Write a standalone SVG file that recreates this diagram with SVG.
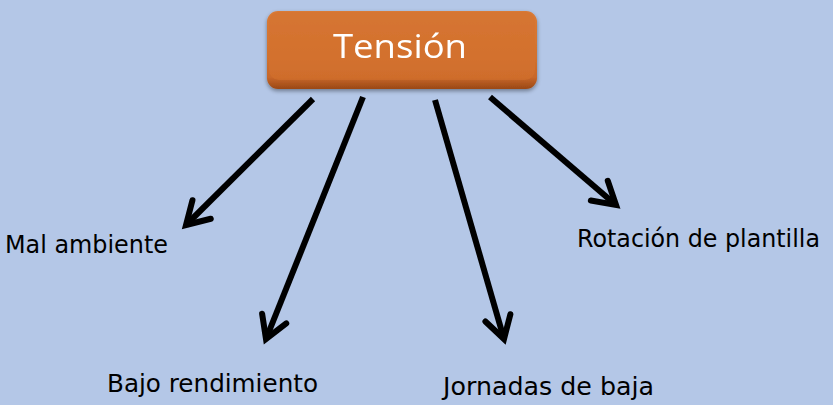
<svg xmlns="http://www.w3.org/2000/svg" width="833" height="405" viewBox="0 0 833 405">
<defs>
<linearGradient id="boxg" x1="0" y1="0" x2="0" y2="1">
<stop offset="0" stop-color="#d97a36"/>
<stop offset="0.6" stop-color="#d2712d"/>
<stop offset="0.85" stop-color="#c8672a"/>
<stop offset="1" stop-color="#9a4815"/>
</linearGradient>
<filter id="sh" x="-10%" y="-20%" width="120%" height="150%">
<feGaussianBlur in="SourceAlpha" stdDeviation="2"/>
<feOffset dy="2"/>
<feComponentTransfer><feFuncA type="linear" slope="0.4"/></feComponentTransfer>
<feMerge><feMergeNode/><feMergeNode in="SourceGraphic"/></feMerge>
</filter>
<marker id="ah" markerUnits="userSpaceOnUse" markerWidth="40" markerHeight="40" viewBox="-30 -20 40 40" refX="0" refY="0" orient="auto">
<path d="M-22,-13 L0,0 L-22,13" fill="none" stroke="#000" stroke-width="6" stroke-linejoin="miter" stroke-linecap="round"/>
</marker>
</defs>
<style>
.lbl{font-family:"Comic Sans MS","DejaVu Sans","Noto Sans",sans-serif;font-size:24px;fill:#000}
.conn line{stroke:#000;stroke-width:6;stroke-linecap:butt;marker-end:url(#ah)}
</style>
<rect x="0" y="0" width="833" height="405" fill="#b4c7e7"/>
<g id="tension" filter="url(#sh)">
<rect x="267" y="11" width="270" height="78" rx="11" fill="url(#boxg)"/>
<rect x="269" y="12" width="266" height="68" rx="10" fill="#d4722f" opacity="0.6"/>
<text x="400" y="58" text-anchor="middle" font-family="'Open Sans','Noto Sans',sans-serif" font-size="33" fill="#ffffff" textLength="134" lengthAdjust="spacingAndGlyphs">Tensión</text>
</g>
<g id="connectors" class="conn">
<line x1="313" y1="99" x2="186" y2="225"/>
<line x1="363" y1="97" x2="266" y2="339"/>
<line x1="435" y1="100" x2="504" y2="339"/>
<line x1="490" y1="97" x2="616" y2="205"/>
</g>
<g id="mal-ambiente"><text class="lbl" x="5" y="253" textLength="163" lengthAdjust="spacingAndGlyphs">Mal ambiente</text></g>
<g id="bajo-rendimiento"><text class="lbl" x="107" y="392" textLength="211" lengthAdjust="spacingAndGlyphs">Bajo rendimiento</text></g>
<g id="jornadas-de-baja"><text class="lbl" x="443" y="395" textLength="211" lengthAdjust="spacingAndGlyphs">Jornadas de baja</text></g>
<g id="rotacion"><text class="lbl" x="577" y="247" textLength="243" lengthAdjust="spacingAndGlyphs">Rotación de plantilla</text></g>
</svg>
